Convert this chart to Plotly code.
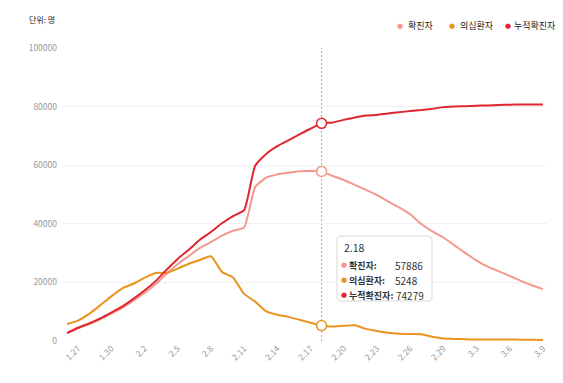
import plotly.graph_objects as go

# ---- data ----
dates = ["1.26", "1.27", "1.28", "1.29", "1.30", "1.31", "2.1", "2.2", "2.3", "2.4", "2.5",
         "2.6", "2.7", "2.8", "2.9", "2.10", "2.11", "2.12", "2.13", "2.14", "2.15", "2.16",
         "2.17", "2.18", "2.19", "2.20", "2.21", "2.22", "2.23", "2.24", "2.25", "2.26",
         "2.27", "2.28", "2.29", "3.1", "3.2", "3.3", "3.4", "3.5", "3.6", "3.7", "3.8", "3.9"]

confirmed = [2613, 4349, 5739, 7417, 9308, 11289, 13748, 16369, 19381, 22942, 26302,
             28985, 31774, 33738, 35982, 37626, 38800, 52526, 55748, 56873, 57416, 57934,
             58016, 57886, 56303, 54965, 53284, 51606, 49824, 47672, 45604, 43258,
             39919, 37414, 35329, 32652, 30004, 27433, 25352, 23784, 22177, 20533, 19016, 17721]

suspected = [5794, 6973, 9239, 12167, 15238, 17988, 19544, 21558, 23214, 23260, 24702,
             26359, 27657, 28942, 23589, 21675, 16067, 13435, 10109, 8969, 8228, 7264,
             6242, 5248, 4922, 5206, 5365, 4148, 3434, 2824, 2491, 2358, 2308, 1418,
             851, 715, 587, 520, 522, 482, 502, 458, 421, 361]

cumulative = [2744, 4515, 5974, 7711, 9692, 11791, 14380, 17205, 20438, 24324, 28018,
              31161, 34546, 37198, 40171, 42638, 44653, 59804, 63851, 66492, 68500, 70548,
              72436, 74279, 74576, 75465, 76288, 76936, 77150, 77658, 78064, 78497,
              78824, 79251, 79824, 80026, 80151, 80270, 80409, 80552, 80651, 80695, 80735, 80754]

series_names = ["확진자", "의심환자", "누적확진자"]
tick_labels = dates[1::3]
y_ticks = [0, 20000, 40000, 60000, 80000, 100000]
hover_date = "2.18"
unit_label = "단위: 명"

colors = ["#f4978e", "#ea9420", "#e0262f"]
FONT = "Noto Sans CJK KR, Noto Sans, sans-serif"

# layout geometry (pixels)
W, H = 563, 383
L, R, T, B = 62, 547, 48, 341

def px(x):
    return (x - L) / (R - L)

def py(y):
    return (B - y) / (B - T)

fig = go.Figure()
series = [confirmed, suspected, cumulative]
for name, vals, col in zip(series_names, series, colors):
    fig.add_trace(go.Scatter(
        x=dates, y=vals, mode="lines", name=name,
        line=dict(color=col, width=2, shape="spline", smoothing=0.5),
        showlegend=False, hoverinfo="skip"))

hi = dates.index(hover_date)
for name, vals, col in zip(series_names, series, colors):
    fig.add_trace(go.Scatter(
        x=[dates[hi]], y=[vals[hi]], mode="markers", showlegend=False, hoverinfo="skip",
        marker=dict(size=10, color="white", line=dict(color=col, width=1.5))))

shapes = []
shapes.append(dict(type="line", xref="x", yref="paper", x0=hi, x1=hi, y0=0, y1=1,
                   line=dict(color="#aaaaaa", width=1, dash="2px,2px"), layer="below"))

# tooltip box (rounded)
bx0, bx1, by0, by1 = 337, 432, 236, 301
r = 4
def P(x, y):
    return f"{px(x):.5f},{py(y):.5f}"
path = (f"M {P(bx0 + r, by0)} L {P(bx1 - r, by0)} Q {P(bx1, by0)} {P(bx1, by0 + r)} "
        f"L {P(bx1, by1 - r)} Q {P(bx1, by1)} {P(bx1 - r, by1)} "
        f"L {P(bx0 + r, by1)} Q {P(bx0, by1)} {P(bx0, by1 - r)} "
        f"L {P(bx0, by0 + r)} Q {P(bx0, by0)} {P(bx0 + r, by0)} Z")
shapes.append(dict(type="path", xref="paper", yref="paper", path=path,
                   fillcolor="rgba(255,255,255,0.96)", line=dict(color="#d8d8d8", width=1)))

def dot(x, y, col, size=7):
    return dict(xref="paper", yref="paper", x=px(x), y=py(y), text="●",
                showarrow=False, xanchor="center", yanchor="middle",
                font=dict(family="DejaVu Sans", size=size, color=col))

annotations = []
annotations.append(dict(xref="paper", yref="paper", x=px(342), y=py(248), text=hover_date,
                        showarrow=False, xanchor="left", yanchor="middle",
                        font=dict(family=FONT, size=10.5, color="#333")))
row_y = [265, 280, 295]
value_x = [393, 393, 394]
for name, vals, col, yy, vx in zip(series_names, series, colors, row_y, value_x):
    annotations.append(dot(344, yy, col, 7))
    annotations.append(dict(
        xref="paper", yref="paper", x=px(347), y=py(yy),
        text=f"<b>{name}:</b>",
        showarrow=False, xanchor="left", yanchor="middle",
        font=dict(family=FONT, size=9, color="#333")))
    annotations.append(dict(
        xref="paper", yref="paper", x=px(vx), y=py(yy), text=str(vals[hi]),
        showarrow=False, xanchor="left", yanchor="middle",
        font=dict(family=FONT, size=10, color="#333")))

# legend as text
legend_dot_x = [400, 452, 508]
legend_txt_x = [406, 458, 512]
for name, col, dx, tx in zip(series_names, colors, legend_dot_x, legend_txt_x):
    annotations.append(dot(dx, 26, col, 7))
    annotations.append(dict(
        xref="paper", yref="paper", x=px(tx), y=py(26), text=name,
        showarrow=False, xanchor="left", yanchor="middle",
        font=dict(family=FONT, size=9, color="#222")))

annotations.append(dict(xref="paper", yref="paper", x=px(27), y=py(19), text=unit_label,
                        showarrow=False, xanchor="left", yanchor="middle",
                        font=dict(family=FONT, size=8, color="#222")))

fig.update_layout(
    width=W, height=H,
    margin=dict(l=L, r=W - R, t=T, b=H - B, autoexpand=False),
    paper_bgcolor="white", plot_bgcolor="white",
    font=dict(family=FONT, size=10, color="#999"),
    shapes=shapes, annotations=annotations,
    showlegend=False,
    xaxis=dict(type="category", range=[-0.45, 43.36], tickmode="array",
               tickvals=tick_labels, ticktext=tick_labels, tickangle=-45,
               showgrid=False, zeroline=False, showline=False, ticks="",
               automargin=False,
               tickfont=dict(family=FONT, size=8.5, color="#999")),
    yaxis=dict(range=[0, 100000], tickvals=y_ticks, tickformat="d",
               showgrid=True, gridcolor="#f0f0f0", gridwidth=1, zeroline=False,
               showline=False, ticks="", ticklabelstandoff=4, automargin=False,
               tickfont=dict(family=FONT, size=8.5, color="#999")),
)

fig.write_html("out.html", config={"displayModeBar": False},
               post_script="document.body.style.margin='0';document.body.style.overflow='hidden';")
